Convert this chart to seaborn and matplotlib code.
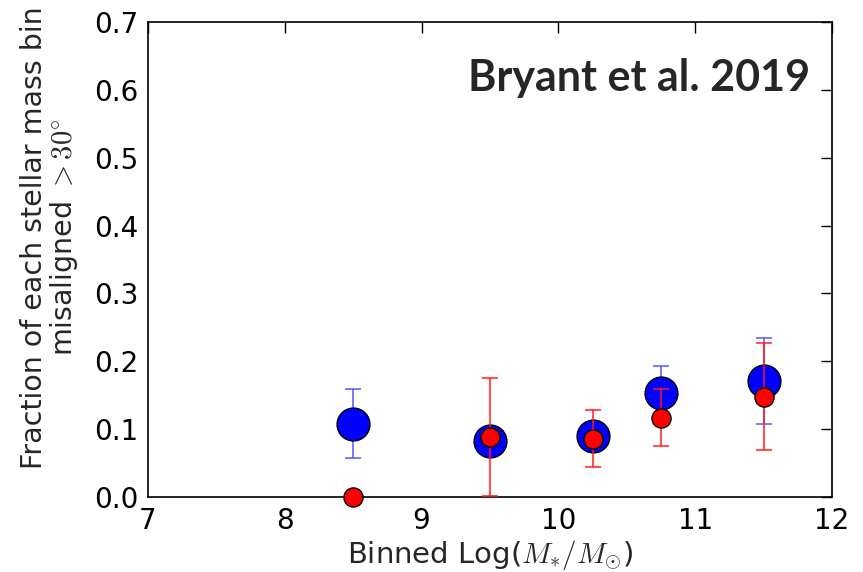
import matplotlib
matplotlib.use("Agg")
import matplotlib.pyplot as plt
import seaborn as sns
import pandas as pd

# Data
mass_bins = [8.5, 9.5, 10.25, 10.75, 11.5]
blue_frac = [0.108, 0.082, 0.090, 0.153, 0.171]
blue_err = [0.051, 0.020, 0.020, 0.040, 0.063]
red_frac = [0.0, 0.089, 0.086, 0.117, 0.148]
red_err = [0.0, 0.087, 0.042, 0.042, 0.079]
x_ticks = [7, 8, 9, 10, 11, 12]
y_ticks = [0.0, 0.1, 0.2, 0.3, 0.4, 0.5, 0.6, 0.7]

sns.set_style("white")
plt.rcParams['font.family'] = ['DejaVu Sans']
plt.rcParams['mathtext.fontset'] = 'cm'

fig = plt.figure(figsize=(8.63, 5.72), dpi=100)
ax = fig.add_axes([0.1715, 0.131, 0.7925, 0.8305])

df_b = pd.DataFrame({"x": mass_bins, "y": blue_frac})
df_r = pd.DataFrame({"x": mass_bins, "y": red_frac})

ax.errorbar(mass_bins, blue_frac, yerr=blue_err, fmt='none', ecolor=(0.25, 0.25, 1.0, 0.75),
            elinewidth=1.3, capsize=6, capthick=1.3, zorder=2)
sns.scatterplot(data=df_b, x="x", y="y", ax=ax, s=560, color='blue', edgecolor='black',
                linewidth=1.0, zorder=3, legend=False, clip_on=False)
ax.errorbar(mass_bins, red_frac, yerr=red_err, fmt='none', ecolor=(1.0, 0.1, 0.1, 0.75),
            elinewidth=1.5, capsize=6, capthick=1.5, zorder=4)
sns.scatterplot(data=df_r, x="x", y="y", ax=ax, s=190, color='red', edgecolor='black',
                linewidth=1.0, zorder=5, legend=False, clip_on=False)

ax.set_xlim(7, 12)
ax.set_ylim(0, 0.7)
ax.set_xticks(x_ticks)
ax.set_yticks(y_ticks)
ax.set_xticklabels([str(t) for t in x_ticks])
ax.set_yticklabels([f"{t:.1f}" for t in y_ticks])
ax.tick_params(axis='both', which='major', direction='in', length=8, width=1,
               top=True, right=True, labelsize=20, pad=7, colors='black')
for sp in ax.spines.values():
    sp.set_color('black')
    sp.set_linewidth(1.2)

ax.set_xlabel(r"Binned Log($M_{*}/M_{\odot}$)", fontsize=21, labelpad=2)
ax.set_ylabel("Fraction of each stellar mass bin\n" + r"misaligned $>30^{\circ}$",
              fontsize=20.5, linespacing=1.0)
ax.yaxis.set_label_coords(-0.099, 0.547)

ax.text(11.84, 0.617, "Bryant et al. 2019", ha='right', va='center',
        fontsize=31, fontweight='bold', family=['Lato', 'DejaVu Sans'])

fig.savefig("out.png", dpi=100)
